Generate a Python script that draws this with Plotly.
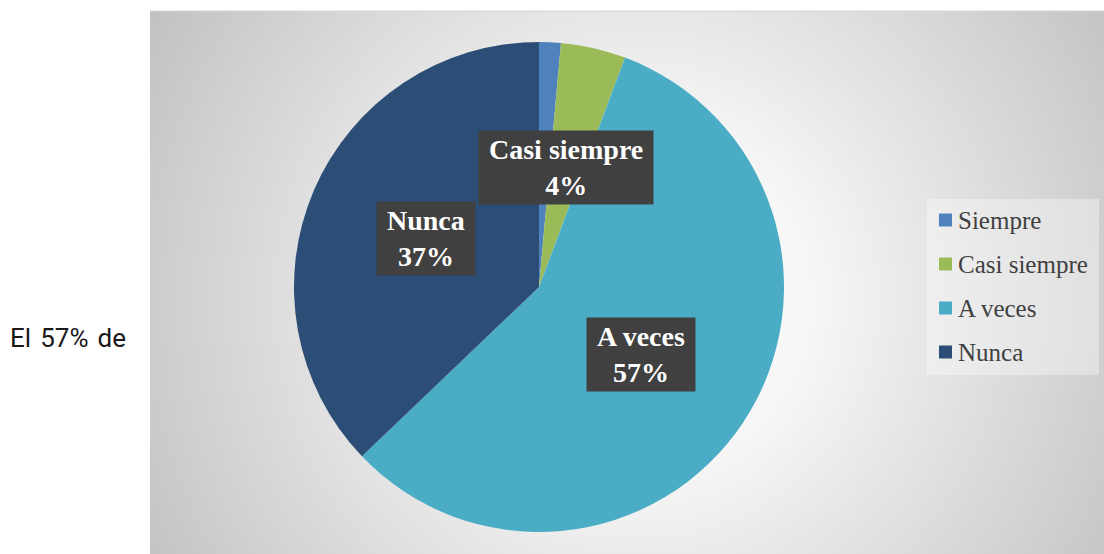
import base64
import math
import plotly.graph_objects as go

# ---------------- data ----------------
categories = ["Siempre", "Casi siempre", "A veces", "Nunca"]
counts = [1, 3, 40, 26]
show_label = [False, True, True, True]

# ---------------- style ----------------
colors = ["#4f81bd", "#9bbb59", "#4bacc6", "#2c4d75"]
W, H = 1104, 554
pie_cx, pie_cy, pie_r = 539, 287, 245
dom_x = [(pie_cx - pie_r) / W, (pie_cx + pie_r) / W]
dom_y = [1 - (pie_cy + pie_r) / H, 1 - (pie_cy - pie_r) / H]

fig = go.Figure()

fig.add_trace(go.Pie(
    labels=categories,
    values=counts,
    marker=dict(colors=colors, line=dict(width=0)),
    sort=False,
    direction="clockwise",
    rotation=0,
    textinfo="none",
    hoverinfo="label+percent",
    showlegend=False,
    domain=dict(x=dom_x, y=dom_y),
))

def px_x(v):
    return v / W

def px_y(v):
    return 1 - v / H

# data labels computed from slice geometry
total = sum(counts)
annotations = []
shapes = []
cum = 0.0
for cat, v, show in zip(categories, counts, show_label):
    frac = v / total
    mid = (cum + frac / 2) * 2 * math.pi
    cum += frac
    if not show:
        continue
    rr = 0.5 * pie_r
    xpx = pie_cx + rr * math.sin(mid)
    ypx = pie_cy - rr * math.cos(mid)
    pct = round(100 * frac)
    annotations.append(dict(
        x=px_x(xpx), y=px_y(ypx), xref="paper", yref="paper",
        text=f"\u00a0{cat}\u00a0<br>{pct}%",
        showarrow=False, xanchor="center", yanchor="middle",
        font=dict(family="Liberation Serif", size=28, color="#ffffff", weight="bold"),
        bgcolor="#404040", borderpad=3, align="center",
    ))

# text outside the chart panel
annotations.append(dict(
    x=px_x(8), y=px_y(338), xref="paper", yref="paper",
    text="El\u200a 57%\u200a de", showarrow=False,
    xanchor="left", yanchor="middle",
    font=dict(family="Roboto", size=26, color="#1a1a1a"),
))

# legend (drawn from categories / colors)
leg_x0, leg_y0, leg_x1, leg_y1 = 927, 199, 1099, 375
leg_first, leg_step, sw = 220, 44, 13
shapes.append(dict(type="rect", xref="paper", yref="paper",
                   x0=px_x(leg_x0), x1=px_x(leg_x1), y0=px_y(leg_y1), y1=px_y(leg_y0),
                   fillcolor="rgba(255,255,255,0.35)", line=dict(width=0), layer="below"))
for i, (cat, col) in enumerate(zip(categories, colors)):
    cy = leg_first + i * leg_step
    shapes.append(dict(type="rect", xref="paper", yref="paper",
                       x0=px_x(939), x1=px_x(939 + sw),
                       y0=px_y(cy + sw / 2), y1=px_y(cy - sw / 2),
                       fillcolor=col, line=dict(width=0)))
    annotations.append(dict(
        x=px_x(956), y=px_y(cy), xref="paper", yref="paper",
        text=cat, showarrow=False, xanchor="left", yanchor="middle",
        font=dict(family="Liberation Serif", size=25, color="#404040"),
    ))

# panel top edge
px0, py0, px1, py1 = 150, 11, 1140, 600
shapes.append(dict(type="line", xref="paper", yref="paper",
                   x0=px_x(px0), x1=1, y0=px_y(py0), y1=px_y(py0),
                   line=dict(color="#d6d6d6", width=1)))

# radial gradient background panel
pw, ph = px1 - px0, py1 - py0
gx, gy, gr = 640 - px0, 300 - py0, 580
svg = (
    f'<svg xmlns="http://www.w3.org/2000/svg" width="{pw}" height="{ph}" viewBox="0 0 {pw} {ph}">'
    f'<defs><radialGradient id="g" gradientUnits="userSpaceOnUse" cx="{gx}" cy="{gy}" r="{gr}">'
    '<stop offset="0" stop-color="#ffffff"/><stop offset="0.3" stop-color="#f6f6f6"/>'
    '<stop offset="1" stop-color="#c0c0c0"/></radialGradient></defs>'
    '<rect width="100%" height="100%" fill="url(#g)"/></svg>'
)
src = "data:image/svg+xml;base64," + base64.b64encode(svg.encode()).decode()

fig.update_layout(
    width=W, height=H,
    margin=dict(l=0, r=0, t=0, b=0),
    paper_bgcolor="#ffffff", plot_bgcolor="rgba(0,0,0,0)",
    showlegend=False,
    images=[dict(source=src, xref="paper", yref="paper",
                 x=px_x(px0), y=px_y(py0), sizex=pw / W, sizey=ph / H,
                 xanchor="left", yanchor="top", sizing="stretch", layer="below")],
    shapes=shapes,
    annotations=annotations,
)

fig.write_html("out.html", config={"displayModeBar": False},
               post_script="document.body.style.margin='0px';")
